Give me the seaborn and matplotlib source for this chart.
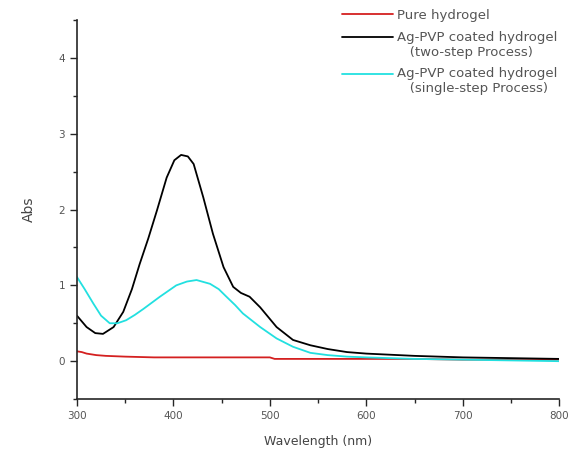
import numpy as np
import pandas as pd
import seaborn as sns
import matplotlib.pyplot as plt
from matplotlib.ticker import MultipleLocator
from matplotlib.legend_handler import HandlerLine2D
from matplotlib.lines import Line2D

# Spectra (wavelength in nm, absorbance)
wl_pure = [300, 305, 310, 320, 330, 350, 380, 420, 460, 500, 505, 550, 600, 650, 700, 750, 800]
abs_pure = [0.13, 0.12, 0.10, 0.08, 0.07, 0.06, 0.05, 0.05, 0.05, 0.05, 0.03, 0.03, 0.03, 0.03, 0.02, 0.02, 0.02]

wl_two = [300, 310, 319, 327, 338, 348, 357, 365, 374, 383, 393, 401, 408, 415, 421, 431, 441,
          452, 462, 470, 479, 490, 507, 524, 542, 560, 580, 600, 650, 700, 750, 800]
abs_two = [0.60, 0.45, 0.37, 0.36, 0.45, 0.65, 0.95, 1.28, 1.62, 1.99, 2.42, 2.65, 2.72, 2.70, 2.60,
           2.16, 1.68, 1.24, 0.98, 0.90, 0.85, 0.71, 0.45, 0.28, 0.21, 0.16, 0.12, 0.10, 0.07, 0.05, 0.04, 0.03]

wl_one = [300, 308, 317, 325, 334, 342, 351, 360, 369, 386, 403, 414, 424, 438, 447, 455, 464,
          472, 481, 490, 507, 524, 542, 560, 580, 600, 650, 700, 750, 800]
abs_one = [1.11, 0.95, 0.76, 0.60, 0.50, 0.50, 0.54, 0.61, 0.69, 0.85, 1.00, 1.05, 1.07, 1.02, 0.95,
           0.85, 0.74, 0.63, 0.54, 0.45, 0.30, 0.19, 0.11, 0.08, 0.06, 0.05, 0.03, 0.02, 0.01, 0.0]

labels = ["Pure hydrogel",
          "Ag-PVP coated hydrogel\n   (two-step Process)",
          "Ag-PVP coated hydrogel\n   (single-step Process)"]
colors = ["#d42020", "#000000", "#22e0e0"]

df = pd.concat([
    pd.DataFrame({"wl": wl_pure, "abs": abs_pure, "sample": labels[0]}),
    pd.DataFrame({"wl": wl_two, "abs": abs_two, "sample": labels[1]}),
    pd.DataFrame({"wl": wl_one, "abs": abs_one, "sample": labels[2]}),
])


class TopLineHandler(HandlerLine2D):
    # put the legend line next to the first text line of a two-line label
    def __init__(self, shift, **kw):
        super().__init__(**kw)
        self.shift = shift

    def create_artists(self, legend, orig_handle, xdescent, ydescent, width, height, fontsize, trans):
        arts = super().create_artists(legend, orig_handle, xdescent, ydescent, width, height, fontsize, trans)
        for a in arts:
            if isinstance(a, Line2D):
                a.set_ydata(np.asarray(a.get_ydata()) + self.shift)
        return arts


sns.set_style("ticks")
fig = plt.figure(figsize=(5.7, 4.53), dpi=100)
ax = fig.add_axes([0.135, 0.119, 0.846, 0.837])

sns.lineplot(data=df, x="wl", y="abs", hue="sample", palette=colors, sort=False,
             linewidth=1.3, ax=ax)

ax.set_xlim(300, 800)
ax.set_ylim(-0.5, 4.5)
ax.xaxis.set_major_locator(MultipleLocator(100))
ax.xaxis.set_minor_locator(MultipleLocator(50))
ax.yaxis.set_major_locator(MultipleLocator(1))
ax.yaxis.set_minor_locator(MultipleLocator(0.5))
ax.tick_params(which="major", length=5, width=1, labelsize=7.5, labelcolor="#555555")
ax.tick_params(which="minor", length=3, width=1)
sns.despine(ax=ax)
ax.spines["left"].set_linewidth(1.2)
ax.spines["bottom"].set_linewidth(1.2)

ax.set_xlabel("Wavelength (nm)", fontsize=9, color="#444444", labelpad=10)
ax.set_ylabel("Abs", fontsize=10, color="#444444", labelpad=16)

fs = 9.5
handles, labs = ax.get_legend_handles_labels()
hmap = {h: TopLineHandler(fs * 0.6 if "\n" in l else 0) for h, l in zip(handles, labs)}
leg = ax.legend(handles, labs, handler_map=hmap, loc="upper right",
                bbox_to_anchor=(1.02, 1.06), frameon=False, fontsize=fs,
                handlelength=3.8, handletextpad=0.3, labelspacing=0.65)
for t in leg.get_texts():
    t.set_color("#555555")

fig.savefig("out.png", dpi=100)
